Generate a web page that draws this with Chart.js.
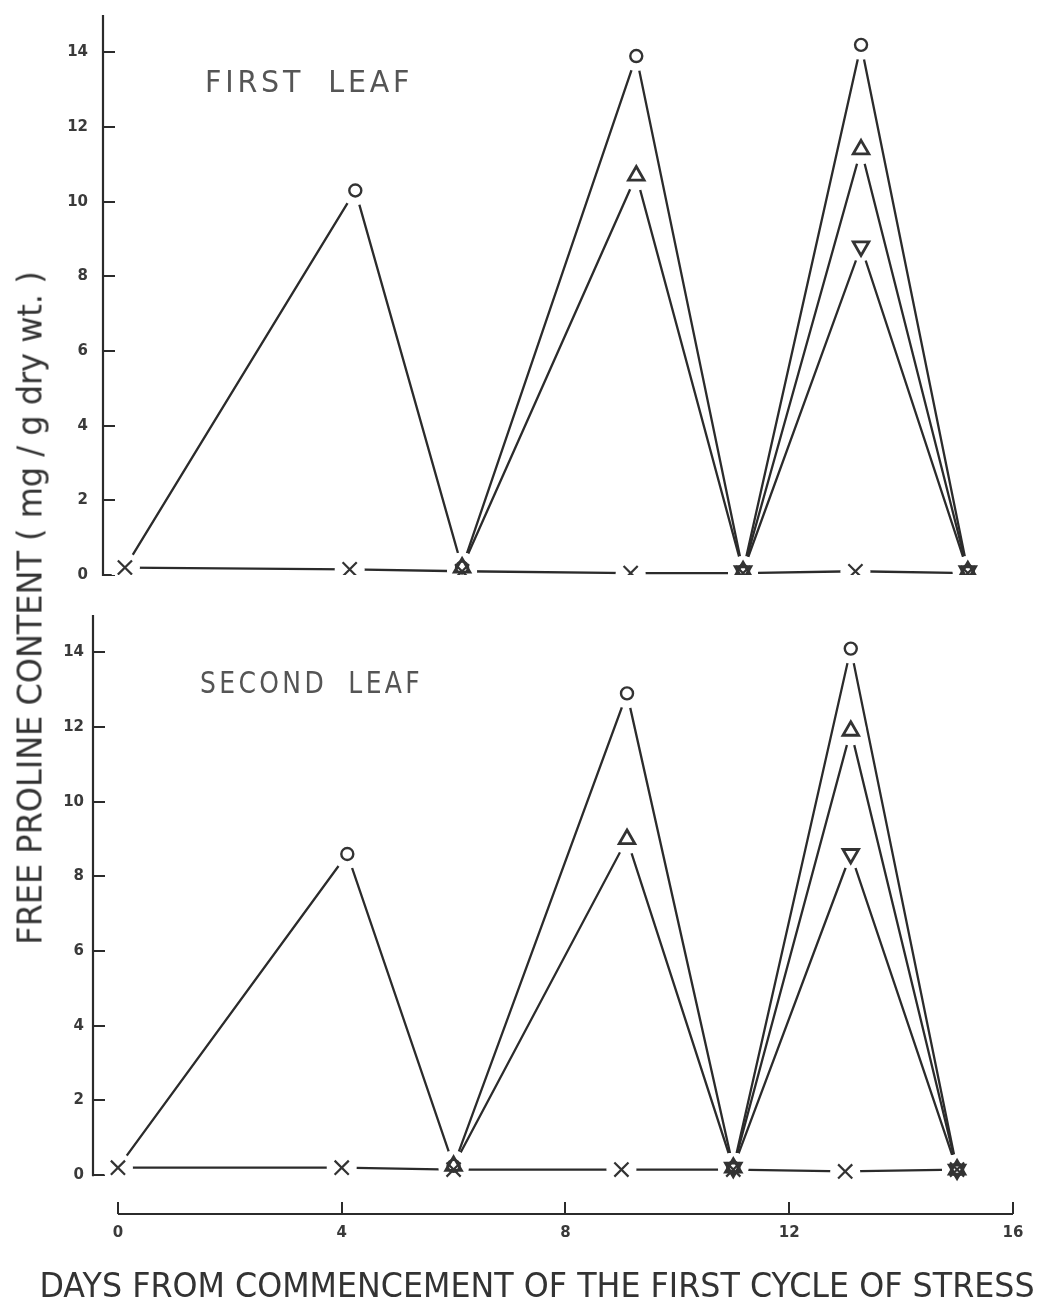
<!DOCTYPE html>
<html lang="en">
<head>
<meta charset="utf-8">
<title>Free proline content</title>
<script src="https://cdn.jsdelivr.net/npm/chart.js@4.4.1/dist/chart.umd.min.js"></script>
<style>
  html, body { margin: 0; padding: 0; background: #fff; }
  body { position: relative; width: 1046px; height: 1309px; overflow: hidden;
         font-family: "DejaVu Sans", sans-serif; color: #333; }
  canvas { position: absolute; left: 0; }
  #firstLeaf { top: 0; }
  #secondLeaf { top: 600px; }
  .label { position: absolute; white-space: nowrap; line-height: 1; }
  .panel { font-size: 30px; letter-spacing: 4px; word-spacing: 12px; color: #555; transform-origin: 0 50%; }
  #yTitle { left: 30px; top: 608px; font-size: 33px; }
  #xTitle { left: 537px; top: 1285px; font-size: 33px; }
</style>
</head>
<body>
<canvas id="firstLeaf" width="1046" height="600"></canvas>
<canvas id="secondLeaf" width="1046" height="709"></canvas>
<div class="label panel" id="t1" style="left:205px;top:82px">FIRST LEAF</div>
<div class="label panel" id="t2" style="left:200px;top:683px">SECOND LEAF</div>
<div class="label" id="yTitle">FREE PROLINE CONTENT ( mg / g dry wt. )</div>
<div class="label" id="xTitle">DAYS FROM COMMENCEMENT OF THE FIRST CYCLE OF STRESS</div>
<script>
// sampling days (control vs stressed plants)
const controlDays = [0, 4, 6, 9, 11, 13, 15];
const stressDays = [0, 4.1, 6, 9.1, 11, 13.1, 15];
const xTicks = [0, 4, 8, 12, 16];
const yTicks = [0, 2, 4, 6, 8, 10, 12, 14];

// first leaf, mg/g dry wt.
const firstControl = [0.2, 0.15, 0.1, 0.05, 0.05, 0.1, 0.05];
const firstCycles3 = [0.2, 10.3, 0.2, 13.9, 0.1, 14.2, 0.1];
const firstCycles2 = [null, null, 0.2, 10.7, 0.1, 11.4, 0.1];
const firstCycles1 = [null, null, null, null, 0.1, 8.8, 0.1];

// second leaf, mg/g dry wt.
const secondControl = [0.2, 0.2, 0.15, 0.15, 0.15, 0.1, 0.15];
const secondCycles3 = [0.2, 8.6, 0.25, 12.9, 0.2, 14.1, 0.15];
const secondCycles2 = [null, null, 0.25, 9.0, 0.2, 11.9, 0.15];
const secondCycles1 = [null, null, null, null, 0.2, 8.6, 0.15];

const ink = '#2b2b2b';
const tickFont = { family: 'DejaVu Sans', weight: 'bold', size: 15 };

const markers = {
  cross: { pointStyle: 'crossRot', radius: 10, rotation: 0, width: 2.2 },
  circle: { pointStyle: 'circle', radius: 6, rotation: 0, width: 2.4 },
  up: { pointStyle: 'triangle', radius: 9, rotation: 0, width: 2.8 },
  down: { pointStyle: 'triangle', radius: 9, rotation: 180, width: 2.8 }
};

function points(days, values, from) {
  const out = [];
  values.forEach((v, i) => {
    if (v !== null && i >= from) out.push({ x: days[i], y: v });
  });
  return out;
}

// lines underneath, white halos to open a gap round each symbol, symbols on top
function buildDatasets(series) {
  const lines = series.map(s => ({
    data: points(s.days, s.values, 0),
    borderColor: ink,
    borderWidth: 2.3,
    pointRadius: 0,
    tension: 0,
    order: 3
  }));
  const marks = series.map(s => points(s.days, s.values, s.markFrom));
  const halo = {
    data: marks.flat(),
    showLine: false,
    pointStyle: 'circle',
    pointRadius: 15,
    pointBackgroundColor: '#fff',
    pointBorderColor: '#fff',
    pointBorderWidth: 0,
    order: 2
  };
  const symbols = series.map((s, i) => {
    const m = markers[s.marker];
    return {
      data: marks[i],
      showLine: false,
      pointStyle: m.pointStyle,
      pointRadius: m.radius,
      pointRotation: m.rotation,
      pointBorderColor: '#333',
      pointBackgroundColor: 'rgba(0,0,0,0)',
      pointBorderWidth: m.width,
      order: 1
    };
  });
  return [...lines, halo, ...symbols];
}

// y axis stops at zero; x axis runs from first to last tick
const axisLines = {
  id: 'axisLines',
  afterDatasetsDraw(chart) {
    const { ctx, chartArea, scales: { x, y } } = chart;
    ctx.save();
    ctx.strokeStyle = ink;
    ctx.lineWidth = 2.2;
    ctx.beginPath();
    ctx.moveTo(chartArea.left, y.getPixelForValue(0) + 1);
    ctx.lineTo(chartArea.left, y.getPixelForValue(y.max));
    if (x.options.display) {
      ctx.moveTo(x.getPixelForValue(xTicks[0]), chartArea.bottom);
      ctx.lineTo(x.getPixelForValue(xTicks[xTicks.length - 1]), chartArea.bottom);
    }
    ctx.stroke();
    ctx.restore();
  }
};

function yScale(min, width, padding) {
  return {
    type: 'linear',
    min: min,
    max: 15,
    z: 1,
    afterBuildTicks: s => { s.ticks = yTicks.map(v => ({ value: v })); },
    afterFit: s => { s.width = width; s.paddingTop = 0; s.paddingBottom = 0; },
    border: { display: false },
    grid: { drawOnChartArea: false, drawTicks: true, tickLength: -12, lineWidth: 2, color: ink },
    ticks: { padding: padding, font: tickFont, color: '#3a3a3a' }
  };
}

function makeChart(id, series, opts) {
  return new Chart(document.getElementById(id), {
    type: 'line',
    data: { datasets: buildDatasets(series) },
    options: {
      responsive: false,
      animation: false,
      devicePixelRatio: 1,
      layout: { padding: opts.padding },
      plugins: { legend: { display: false }, tooltip: { enabled: false } },
      scales: { x: opts.x, y: opts.y }
    },
    plugins: [axisLines]
  });
}

makeChart('firstLeaf', [
  { days: controlDays, values: firstControl, marker: 'cross', markFrom: 0 },
  { days: stressDays, values: firstCycles3, marker: 'circle', markFrom: 1 },
  { days: stressDays, values: firstCycles2, marker: 'up', markFrom: 0 },
  { days: stressDays, values: firstCycles1, marker: 'down', markFrom: 0 }
], {
  padding: { left: 0, right: 22, top: 12.5, bottom: 25 },
  x: { type: 'linear', min: -0.39, max: 16, display: false },
  y: yScale(0, 103, 27)
});

makeChart('secondLeaf', [
  { days: controlDays, values: secondControl, marker: 'cross', markFrom: 0 },
  { days: stressDays, values: secondCycles3, marker: 'circle', markFrom: 1 },
  { days: stressDays, values: secondCycles2, marker: 'up', markFrom: 0 },
  { days: stressDays, values: secondCycles1, marker: 'down', markFrom: 0 }
], {
  padding: { left: 0, right: 33, top: 12.5, bottom: 0 },
  x: {
    type: 'linear',
    min: -0.446,
    max: 16,
    z: 1,
    afterBuildTicks: s => { s.ticks = xTicks.map(v => ({ value: v })); },
    afterFit: s => { s.height = 95; s.paddingLeft = 0; s.paddingRight = 0; },
    border: { display: false },
    grid: { drawOnChartArea: false, drawTicks: true, tickLength: -12, lineWidth: 2, color: ink },
    ticks: { padding: 22, font: tickFont, color: '#3a3a3a', maxRotation: 0 }
  },
  y: yScale(-1.04, 93, 21)
});

// stretch the lettering to its drawn width
function fit(id, width, transform) {
  const el = document.getElementById(id);
  const k = width / el.offsetWidth;
  el.style.transform = transform.replace('K', k.toFixed(4));
}
fit('t1', 208, 'translateY(-50%) scaleX(K)');
fit('t2', 223, 'translateY(-50%) scaleX(K)');
fit('yTitle', 673, 'translate(-50%, -50%) rotate(-90deg) scaleX(K)');
fit('xTitle', 995, 'translate(-50%, -50%) scaleX(K)');
</script>
</body>
</html>
